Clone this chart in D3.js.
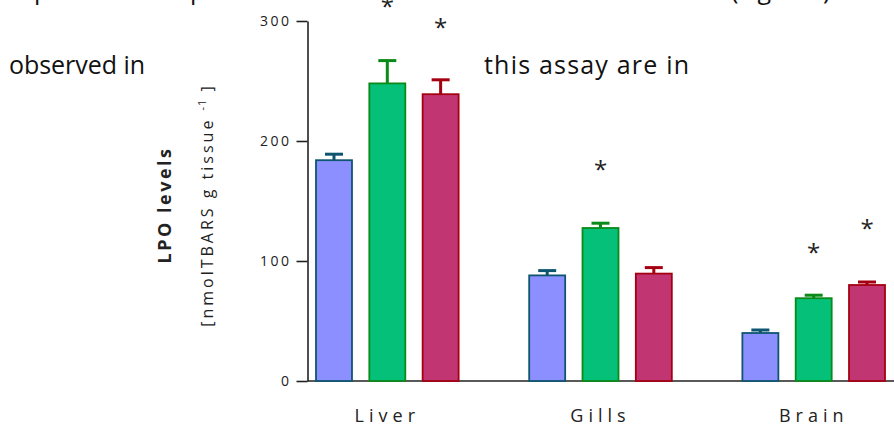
<!DOCTYPE html>
<html>
<head>
<meta charset="utf-8">
<script src="https://cdn.jsdelivr.net/npm/d3@7"></script>
<style>
  body { margin: 0; background: #fff; }
  svg { display: block; font-family: "Open Sans", sans-serif; }
</style>
</head>
<body>
<svg id="chart" width="894" height="425"></svg>
<script>
// tissues and treatment groups
var tissues = ["Liver", "Gills", "Brain"];
var groups = ["control", "treatA", "treatB"];

// mean LPO level per tissue, one array per group
var controlVals = [184, 88, 40];
var treatAVals = [248, 127.5, 69];
var treatBVals = [239, 89.5, 80];

// upper error (SEM)
var controlErr = [5, 4, 2.5];
var treatAErr = [19, 4, 2.5];
var treatBErr = [12, 5, 2.5];

// level (in axis units) where a significance star sits, null = none
var controlStar = [null, null, null];
var treatAStar = [316, 180, 111];
var treatBStar = [298, null, 131];

var yTicks = [0, 100, 200, 300];

var fills = ["#8c8fff", "#05c078", "#c23573"];
var strokes = ["#0e5570", "#0a8a18", "#a50012"];

var vals = [controlVals, treatAVals, treatBVals];
var errs = [controlErr, treatAErr, treatBErr];
var stars = [controlStar, treatAStar, treatBStar];

var data = [];
tissues.forEach(function(t, i) {
  groups.forEach(function(g, j) {
    data.push({tissue: t, group: g, gi: j, value: vals[j][i], err: errs[j][i], star: stars[j][i]});
  });
});

var svg = d3.select("#chart");

// surrounding document text that the chart overlaps
var doc = svg.append("g").attr("fill", "#111").style("font-size", "25px").style("white-space", "pre");
doc.append("text").attr("x", 9).attr("y", 74).attr("textLength", 136).text("observed  in");
doc.append("text").attr("x", 484).attr("y", 74).attr("textLength", 205).text("this assay are in");
doc.append("text").attr("x", 34).attr("y", -1).text("p");
doc.append("text").attr("x", 190).attr("y", -1).text("p");
doc.append("text").attr("x", 731).attr("y", -1).text("(Fig");
doc.append("text").attr("x", 823).attr("y", -1).text(")");

var axisX = 307.5;

var y = d3.scaleLinear().domain([0, 300]).range([381, 21]);

var x0 = d3.scaleBand().domain(tissues).range([316, 885]).paddingInner(0.331).paddingOuter(0);
var x1 = d3.scaleBand().domain(groups).range([0, x0.bandwidth()]).paddingInner(0.325).paddingOuter(0);

// y axis
var yAxis = svg.append("g")
  .attr("transform", "translate(" + axisX + ",0)")
  .call(d3.axisLeft(y).tickValues(yTicks).tickSize(11).tickSizeOuter(0).tickPadding(5));
yAxis.select(".domain").attr("stroke", "#222").attr("stroke-width", 1.6);
yAxis.selectAll(".tick line").attr("stroke", "#222").attr("stroke-width", 1.6);
yAxis.selectAll(".tick text")
  .attr("fill", "#222")
  .style("font-size", "14px")
  .style("letter-spacing", "2.5px")
  .style("font-family", "Open Sans, sans-serif");

// x axis baseline
svg.append("line")
  .attr("x1", axisX).attr("x2", 894)
  .attr("y1", y(0)).attr("y2", y(0))
  .attr("stroke", "#222").attr("stroke-width", 1.6);

var xAxis = svg.append("g")
  .attr("transform", "translate(0," + y(0) + ")")
  .call(d3.axisBottom(x0).tickSize(0).tickPadding(28));
xAxis.select(".domain").remove();
xAxis.selectAll(".tick text")
  .attr("fill", "#222")
  .style("font-size", "18px")
  .style("letter-spacing", "5px")
  .style("font-family", "Open Sans, sans-serif");

// bars
var bx = function(d) { return x0(d.tissue) + x1(d.group); };

svg.append("g").selectAll("rect")
  .data(data)
  .join("rect")
  .attr("x", bx)
  .attr("y", function(d) { return y(d.value); })
  .attr("width", x1.bandwidth())
  .attr("height", function(d) { return y(0) - y(d.value); })
  .attr("fill", function(d) { return fills[d.gi]; })
  .attr("stroke", function(d) { return strokes[d.gi]; })
  .attr("stroke-width", 1.8);

// error bars (upper only)
var eb = svg.append("g").selectAll("g")
  .data(data)
  .join("g")
  .attr("stroke", function(d) { return strokes[d.gi]; })
  .attr("stroke-width", 3);
eb.append("line")
  .attr("x1", function(d) { return bx(d) + x1.bandwidth() / 2; })
  .attr("x2", function(d) { return bx(d) + x1.bandwidth() / 2; })
  .attr("y1", function(d) { return y(d.value); })
  .attr("y2", function(d) { return y(d.value + d.err); });
eb.append("line")
  .attr("x1", function(d) { return bx(d) + x1.bandwidth() / 2 - 9; })
  .attr("x2", function(d) { return bx(d) + x1.bandwidth() / 2 + 9; })
  .attr("y1", function(d) { return y(d.value + d.err); })
  .attr("y2", function(d) { return y(d.value + d.err); });

// significance stars
svg.append("g").selectAll("text")
  .data(data.filter(function(d) { return d.star != null; }))
  .join("text")
  .attr("x", function(d) { return bx(d) + x1.bandwidth() / 2; })
  .attr("y", function(d) { return y(d.star) + 13; })
  .attr("text-anchor", "middle")
  .attr("fill", "#222")
  .style("font-size", "24px")
  .text("*");

// y axis title
svg.append("text")
  .attr("transform", "translate(171,205) rotate(-90)")
  .attr("text-anchor", "middle")
  .attr("fill", "#222")
  .style("font-size", "18px")
  .style("font-weight", "bold")
  .style("letter-spacing", "2.5px")
  .text("LPO levels");

var unit = svg.append("text")
  .attr("transform", "translate(213,205) rotate(-90)")
  .attr("text-anchor", "middle")
  .attr("fill", "#222")
  .style("font-size", "16px")
  .style("letter-spacing", "3px");
unit.append("tspan").text("[nmolTBARS g tissue ");
unit.append("tspan").attr("dy", -7).style("font-size", "11px").style("letter-spacing", "1px").text("-1");
unit.append("tspan").attr("dy", 7).text(" ]");
</script>
</body>
</html>
